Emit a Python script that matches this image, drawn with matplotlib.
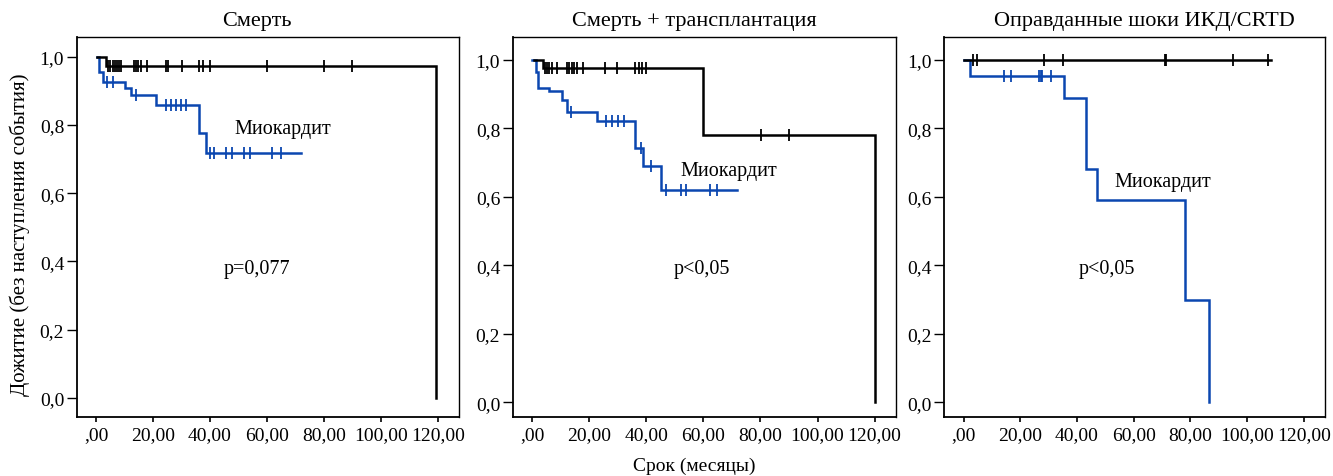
import numpy as np
import matplotlib
matplotlib.use('Agg')
import matplotlib.pyplot as plt

# --- Данные ---
# Панель 1: Смерть
t_black_1 = [0.5, 3.4, 119.5]
s_black_1 = [1.0, 0.972, 0.0]
end_black_1 = 119.5
c_black_1 = [4.3, 5.0, 5.8, 6.6, 7.4, 8.2, 8.9, 13.3, 14.0, 14.8, 15.9, 17.9,
             24.4, 25.2, 30.1, 36.1, 37.5, 40.1, 60.1, 80.0, 89.8]
t_blue_1 = [0.5, 1.2, 2.6, 10.1, 12.2, 21.2, 36.3, 38.6]
s_blue_1 = [1.0, 0.955, 0.926, 0.908, 0.889, 0.860, 0.777, 0.718]
end_blue_1 = 72.0
c_blue_1 = [3.7, 6.0, 14.2, 24.4, 26.4, 28.2, 29.9, 31.7, 40.1, 41.5, 45.6, 47.7,
            52.0, 54.1, 61.9, 64.8]

# Панель 2: Смерть + трансплантация
t_black_2 = [0.8, 3.7, 60.0, 120.0]
s_black_2 = [1.0, 0.976, 0.781, 0.0]
end_black_2 = 120.0
c_black_2 = [4.5, 5.3, 6.1, 6.9, 8.6, 12.3, 13.1, 13.9, 14.7, 15.6, 17.9, 25.5,
             29.6, 35.9, 37.5, 38.6, 40.0, 80.2, 90.0]
t_blue_2 = [0.0, 1.3, 2.2, 5.9, 10.4, 12.1, 22.6, 35.9, 38.8, 45.3]
s_blue_2 = [1.0, 0.964, 0.917, 0.907, 0.883, 0.847, 0.822, 0.742, 0.689, 0.620]
end_blue_2 = 71.8
c_blue_2 = [13.5, 26.0, 28.1, 30.1, 32.1, 38.0, 41.8, 47.0, 52.0, 53.8, 62.2, 64.7]

# Панель 3: Оправданные шоки ИКД/CRTD
t_black_3 = [0.0]
s_black_3 = [1.0]
end_black_3 = 108.6
c_black_3 = [3.2, 4.6, 28.2, 35.2, 71.0, 71.5, 95.2, 107.4]
t_blue_3 = [0.0, 2.1, 35.6, 43.3, 47.2, 78.0, 86.5]
s_blue_3 = [1.0, 0.953, 0.889, 0.680, 0.591, 0.299, 0.0]
end_blue_3 = 86.5
c_blue_3 = [14.3, 16.6, 26.7, 27.2, 27.6, 31.0]

titles = ['Смерть', 'Смерть + трансплантация', 'Оправданные шоки ИКД/CRTD']
p_texts = ['p=0,077', 'p<0,05', 'p<0,05']
x_ticks = [0, 20, 40, 60, 80, 100, 120]
x_ticklabels = [',00', '20,00', '40,00', '60,00', '80,00', '100,00', '120,00']
y_ticks = [0.0, 0.2, 0.4, 0.6, 0.8, 1.0]
y_ticklabels = ['0,0', '0,2', '0,4', '0,6', '0,8', '1,0']

panels = [
    (t_black_1, s_black_1, end_black_1, c_black_1, t_blue_1, s_blue_1, end_blue_1, c_blue_1),
    (t_black_2, s_black_2, end_black_2, c_black_2, t_blue_2, s_blue_2, end_blue_2, c_blue_2),
    (t_black_3, s_black_3, end_black_3, c_black_3, t_blue_3, s_blue_3, end_blue_3, c_blue_3),
]

# положения подписей (в данных)
myo_pos = [(65.7, 0.791), (69.0, 0.675), (70.2, 0.643)]
p_pos = [(56.6, 0.378), (59.6, 0.389), (50.6, 0.389)]
title_x = [0.471, 0.474, 0.525]
ylims = [(-0.057, 1.057), (-0.044, 1.065), (-0.044, 1.065)]
axes_rects = [[0.0575, 0.123, 0.287, 0.7966],
              [0.3846, 0.123, 0.2876, 0.7966],
              [0.7084, 0.123, 0.2856, 0.7966]]

plt.rcParams['font.family'] = ['Liberation Serif', 'DejaVu Serif']
FS = 14
BLUE = '#0b46b0'


def surv_at(times, surv, t):
    i = np.searchsorted(times, t, side='right') - 1
    return np.array(surv)[np.clip(i, 0, len(surv) - 1)]


def draw_curve(ax, times, surv, end, cens, color):
    x = list(times) + [end]
    y = list(surv) + [surv[-1]]
    ax.step(x, y, where='post', color=color, lw=1.8, solid_joinstyle='miter')
    ax.plot(cens, surv_at(times, surv, cens), ls='none', marker='|',
            ms=8, mew=1.3, color=color)


fig = plt.figure(figsize=(13.33, 4.77), dpi=100)

for k, (tb, sb, eb, cb, tu, su, eu, cu) in enumerate(panels):
    ax = fig.add_axes(axes_rects[k])
    draw_curve(ax, tu, su, eu, cu, BLUE)
    draw_curve(ax, tb, sb, eb, cb, 'black')
    ax.set_xlim(-6.8, 127.5)
    ax.set_ylim(*ylims[k])
    ax.set_xticks(x_ticks)
    ax.set_xticklabels(x_ticklabels)
    ax.set_yticks(y_ticks)
    ax.set_yticklabels(y_ticklabels)
    ax.tick_params(axis='x', length=3.5, width=1.2, pad=3, labelsize=FS)
    ax.tick_params(axis='y', length=7, width=1.0, pad=2, labelsize=FS)
    for sp in ax.spines.values():
        sp.set_linewidth(1.0)
    ax.spines['left'].set_linewidth(1.3)
    ax.spines['bottom'].set_linewidth(1.3)
    ax.text(title_x[k], 1.02, titles[k], transform=ax.transAxes,
            ha='center', va='bottom', fontsize=16)
    ax.text(*myo_pos[k], 'Миокардит', ha='center', va='center', fontsize=14.5)
    ax.text(*p_pos[k], p_texts[k], ha='center', va='center', fontsize=14.5)

fig.text(0.015, 0.507, 'Дожитие (без наступления события)', rotation=90,
         ha='center', va='center', fontsize=15)
fig.text(0.521, 0.022, 'Срок (месяцы)', ha='center', va='center', fontsize=14)

fig.savefig('out.png', dpi=100)
